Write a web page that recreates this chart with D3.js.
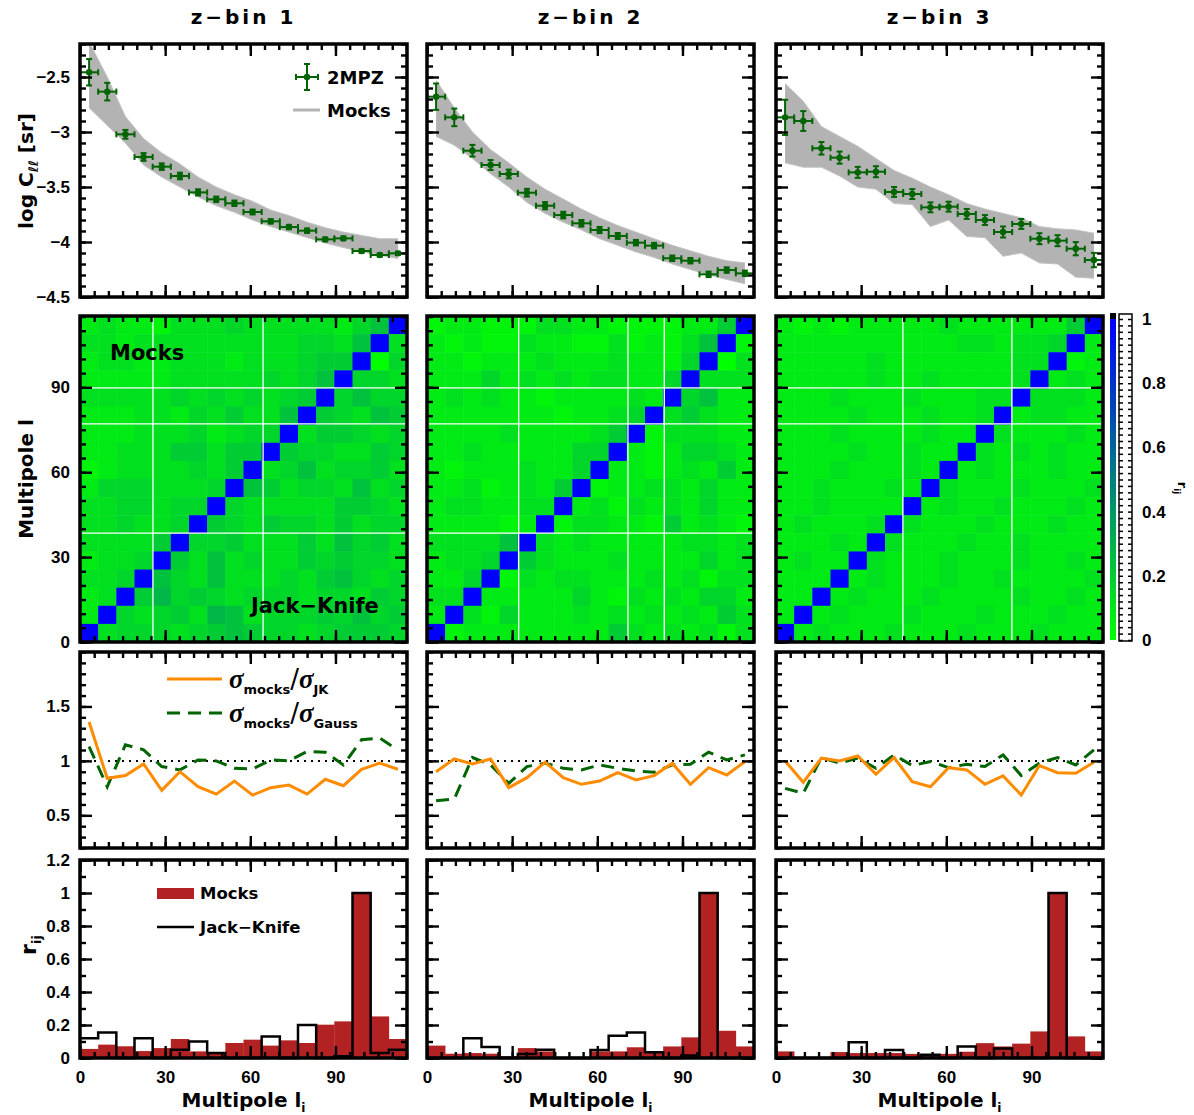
<!DOCTYPE html>
<html>
<head>
<meta charset="utf-8">
<script src="https://cdn.jsdelivr.net/npm/d3@7"></script>
<style>
body { margin: 0; background: #fff; }
svg text { font-family: "DejaVu Sans", sans-serif; font-weight: bold; fill: #000; }
.tick text { font-family: "Liberation Sans", Arial, sans-serif; font-size: 17px; font-weight: bold; }
</style>
</head>
<body>
<div id="chart"></div>
<script>
// multipole binning (18 bins)
const ellEdges = [0, 6.4, 12.8, 19.2, 25.6, 32, 38.4, 44.8, 51.2, 57.6, 64, 70.4, 76.8, 83.2, 89.6, 96, 102.4, 108.8, 115.2];
const ellCentres = [3.2, 9.6, 16, 22.4, 28.8, 35.2, 41.6, 48, 54.4, 60.8, 67.2, 73.6, 80, 86.4, 92.8, 99.2, 105.6, 112];
const zbinTitles = ["z\u2212bin 1", "z\u2212bin 2", "z\u2212bin 3"];

// log C_l of 2MPZ, per z-bin
const clObs = [
  [-2.457, -2.633, -3.021, -3.227, -3.315, -3.4, -3.549, -3.612, -3.648, -3.727, -3.812, -3.864, -3.897, -3.976, -3.967, -4.082, -4.118, -4.103],
  [-2.679, -2.867, -3.17, -3.3, -3.382, -3.552, -3.67, -3.755, -3.83, -3.891, -3.945, -4.006, -4.033, -4.148, -4.17, -4.294, -4.255, -4.285],
  [-2.867, -2.9, -3.148, -3.233, -3.367, -3.361, -3.545, -3.564, -3.685, -3.679, -3.745, -3.8, -3.909, -3.836, -3.97, -3.988, -4.061, -4.164]
];
const clErr = [
  [0.12, 0.08, 0.04, 0.035, 0.03, 0.03, 0.028, 0.025, 0.025, 0.022, 0.02, 0.02, 0.02, 0.018, 0.018, 0.016, 0.015, 0.015],
  [0.12, 0.08, 0.053, 0.045, 0.04, 0.035, 0.033, 0.03, 0.03, 0.028, 0.027, 0.025, 0.025, 0.025, 0.025, 0.025, 0.025, 0.025],
  [0.16, 0.09, 0.057, 0.055, 0.05, 0.05, 0.045, 0.045, 0.045, 0.045, 0.045, 0.045, 0.05, 0.045, 0.05, 0.05, 0.06, 0.065]
];
// envelope of the mock spectra
const mockHi = [
  [-2.18, -2.5, -2.86, -3.06, -3.19, -3.29, -3.41, -3.5, -3.57, -3.63, -3.71, -3.76, -3.82, -3.87, -3.91, -3.94, -3.97, -3.97],
  [-2.53, -2.78, -3.0, -3.16, -3.28, -3.41, -3.52, -3.61, -3.7, -3.78, -3.85, -3.91, -3.97, -4.03, -4.08, -4.13, -4.17, -4.19],
  [-2.56, -2.72, -2.95, -3.04, -3.13, -3.24, -3.35, -3.42, -3.5, -3.57, -3.65, -3.7, -3.74, -3.78, -3.86, -3.88, -3.89, -3.92]
];
const mockLo = [
  [-2.78, -2.94, -3.1, -3.3, -3.41, -3.5, -3.59, -3.67, -3.73, -3.8, -3.86, -3.91, -3.96, -4.01, -4.05, -4.09, -4.12, -4.15],
  [-3.04, -3.12, -3.24, -3.38, -3.5, -3.64, -3.74, -3.82, -3.89, -3.97, -4.03, -4.09, -4.14, -4.2, -4.25, -4.3, -4.34, -4.38],
  [-3.28, -3.32, -3.32, -3.4, -3.5, -3.52, -3.65, -3.66, -3.86, -3.8, -3.95, -3.96, -4.13, -4.1, -4.19, -4.2, -4.32, -4.33]
];

// correlation matrices r_ij, rows from top (l high) to bottom; digit d -> 0.04*d, X -> 1
const heatZ1 = [
  "23221333433333246X", "3323333333334436X3", "233223332333455X04", "22222333334346X443",
  "3333343434345X4644", "222332435336X54365", "22233342344X355434", "2233355355X5443354",
  "123333435X34634453", "24443334X653443634", "3344344X4333335543", "334334X54354435344",
  "33335X445333536453", "2334X5363433545443", "334X64363334356434", "23X574543444344354",
  "2X4345376344454645", "X34443456544345554"
];
const heatZ2 = [
  "12211133221111225X", "2121132211312136X1", "221222322232214X03", "22242323233224X333",
  "2323221222232X4622", "222222212234X35322", "22223222235X133322", "2232222244X2124432",
  "212223224X22123252", "22312325X122332422", "2332233X2313232422", "222212X13322152321",
  "33336X323222223323", "2334X5322232222423", "224X13233222323133", "33X222224213232442",
  "2X3142223232323253", "X12222222253232313"
];
const heatZ3 = [
  "21212222232222225X", "2222222222332334X2", "222223222222233X12", "22222322322223X232",
  "2223222322233X3332", "222232223223X23322", "22232222322X322232", "2222322322X3232322",
  "222322232X23222322", "22322232X322232223", "2232222X2322322232", "232223X32223222322",
  "22232X322232232222", "2322X3222322232232", "222X23222322322223", "22X232223222232232",
  "2X2322232223222322", "X23222322232223222"
];
const whiteV = [[25.7, 64.5], [32.3, 70.8, 83.6], [44.7, 83.1]];
const whiteH = [[89.8, 77.1, 38.5], [89.8, 77.1, 38.5], [89.8, 77.1]];

// sigma ratios
const sigJK = [
  [1.357, 0.84, 0.865, 0.972, 0.729, 0.901, 0.763, 0.695, 0.815, 0.686, 0.754, 0.778, 0.695, 0.831, 0.772, 0.923, 0.979, 0.923],
  [0.901, 1.018, 0.972, 1.018, 0.754, 0.846, 0.988, 0.846, 0.785, 0.815, 0.892, 0.825, 0.865, 0.979, 0.785, 0.938, 0.871, 0.994],
  [1.0, 0.803, 1.025, 1.0, 1.046, 0.877, 1.031, 0.809, 0.763, 0.938, 0.917, 0.785, 0.862, 0.686, 0.957, 0.892, 0.886, 0.988]
];
const sigGauss = [
  [1.132, 0.763, 1.148, 1.102, 0.948, 0.917, 1.009, 1.0, 0.932, 0.926, 1.009, 1.0, 1.086, 1.08, 0.963, 1.194, 1.209, 1.1],
  [0.634, 0.649, 1.031, 0.963, 0.794, 0.948, 0.979, 0.932, 0.917, 0.963, 0.932, 0.908, 0.895, 0.963, 0.969, 1.08, 1.009, 1.055],
  [0.748, 0.702, 1.031, 0.979, 1.025, 0.932, 1.055, 0.957, 0.994, 0.938, 0.969, 0.948, 1.055, 0.865, 0.979, 1.031, 0.963, 1.102]
];

// r_ij for the row at l ~ 99
const rMocks = [
  [0.055, 0.081, 0.071, 0.042, 0.06, 0.115, 0.04, 0.03, 0.091, 0.111, 0.075, 0.107, 0.091, 0.202, 0.222, 1.0, 0.252, 0.115],
  [0.075, 0.026, 0.03, 0.026, 0.01, 0.06, 0.04, 0, 0, 0.04, 0.04, 0.065, 0.035, 0.07, 0.125, 1.0, 0.165, 0.07],
  [0.04, 0, 0, 0.036, 0.03, 0.03, 0.03, 0.025, 0.02, 0.025, 0.038, 0.09, 0.07, 0.087, 0.161, 1.0, 0.131, 0.04]
];
const rJK = [
  [0.12, 0.155, 0, 0.12, 0, 0.05, 0.1, 0.03, 0, 0, 0.13, 0, 0.2, 0, 0.01, 1.0, 0.03, 0.05],
  [0, 0, 0.12, 0.067, 0, 0.025, 0.05, 0, 0, 0.048, 0.135, 0.155, 0.035, 0, 0.015, 1.0, 0, 0],
  [0, 0, 0, 0, 0.095, 0, 0.048, 0, 0.02, 0, 0.07, 0, 0.057, 0, 0, 1.0, 0, 0]
];

const heats = [heatZ1, heatZ2, heatZ3];
const colX = [80, 427, 776], colW = 327;
const rowCl = [297, 44], rowHeat = [642, 316], rowRatio = [848, 652], rowHist = [1058, 860];
const green = "#006400", orange = "#ff8c00", red = "#b22222";

const svg = d3.select("#chart").append("svg")
    .attr("width", 1194)
    .attr("height", 1115);

const fmt = d3.format("~g");

function cleanAxis(s) {
  s.select(".domain").remove();
  s.selectAll(".tick line").attr("stroke", "#000").attr("stroke-width", 2.4);
}

// frame with inward ticks on all four sides
function addAxes(g, x, y, o) {
  const [xa, xb] = x.range();
  const [yb, ya] = y.range();
  const sides = [
    [d3.axisBottom, `translate(0,${yb})`, x, o.xMinor, o.xMajor, o.xLabels],
    [d3.axisTop, `translate(0,${ya})`, x, o.xMinor, o.xMajor, false],
    [d3.axisLeft, `translate(${xa},0)`, y, o.yMinor, o.yMajor, o.yLabels],
    [d3.axisRight, `translate(${xb},0)`, y, o.yMinor, o.yMajor, false]
  ];
  sides.forEach(([ax, tr, sc, minor, major, lab]) => {
    g.append("g").attr("transform", tr)
      .call(ax(sc).tickValues(minor).tickSize(-6).tickFormat(""))
      .call(cleanAxis);
    g.append("g").attr("transform", tr)
      .call(ax(sc).tickValues(major).tickSize(-12).tickPadding(ax === d3.axisBottom ? 13 : 10)
        .tickFormat(lab ? fmt : ""))
      .call(cleanAxis);
  });
  g.append("rect")
    .attr("x", xa).attr("y", ya)
    .attr("width", xb - xa).attr("height", yb - ya)
    .attr("fill", "none").attr("stroke", "#000").attr("stroke-width", 3.5);
}

const heatColour = d3.scaleLinear().domain([0, 1]).range(["#00ff00", "#0000ff"]).interpolate(d3.interpolateRgb);
const parseCell = ch => ch === "X" ? 1 : (+ch) * 0.04;

const xMinor = d3.range(0, 116, 5), xMajor = [0, 30, 60, 90];

for (let k = 0; k < 3; k++) {
  const x = d3.scaleLinear().domain([0, 115.2]).range([colX[k], colX[k] + colW]);
  const first = k === 0;

  // title
  svg.append("text")
    .attr("x", colX[k] + colW / 2).attr("y", 24)
    .attr("text-anchor", "middle")
    .style("font-size", "20px").style("letter-spacing", "3px")
    .text(zbinTitles[k]);

  // ---------- row 1 : C_l ----------
  const yC = d3.scaleLinear().domain([-4.5, -2.2]).range(rowCl);
  const gC = svg.append("g");
  const clipC = "clipC" + k;
  gC.append("clipPath").attr("id", clipC).append("rect")
    .attr("x", x(0)).attr("y", rowCl[1]).attr("width", colW).attr("height", rowCl[0] - rowCl[1]);
  const band = ellCentres.map((l, i) => ({ l: l, hi: mockHi[k][i], lo: mockLo[k][i] }));
  const gBand = gC.append("g").attr("clip-path", `url(#${clipC})`);
  gBand.append("path").datum(band)
    .attr("fill", "#b3b3b3")
    .attr("d", d3.area().x(d => x(d.l)).y0(d => yC(d.lo)).y1(d => yC(d.hi)));
  ["hi", "lo"].forEach(key => {
    gBand.append("path").datum(band)
      .attr("fill", "none").attr("stroke", "#c4c4c4").attr("stroke-width", 1)
      .attr("d", d3.line().x(d => x(d.l)).y(d => yC(d[key])));
  });
  const pts = ellCentres.map((l, i) => ({ l: l, v: clObs[k][i], e: clErr[k][i] }));
  const gP = gC.append("g").attr("clip-path", `url(#${clipC})`)
    .attr("stroke", green).attr("stroke-width", 2).attr("fill", green);
  pts.forEach(d => {
    const cx = x(d.l), cy = yC(d.v);
    const xl = x(d.l - 3.2), xr = x(d.l + 3.2), yt = yC(d.v + d.e), ybt = yC(d.v - d.e);
    gP.append("line").attr("x1", xl).attr("x2", xr).attr("y1", cy).attr("y2", cy);
    gP.append("line").attr("x1", xl).attr("x2", xl).attr("y1", cy - 3).attr("y2", cy + 3);
    gP.append("line").attr("x1", xr).attr("x2", xr).attr("y1", cy - 3).attr("y2", cy + 3);
    gP.append("line").attr("x1", cx).attr("x2", cx).attr("y1", yt).attr("y2", ybt);
    gP.append("line").attr("x1", cx - 3).attr("x2", cx + 3).attr("y1", yt).attr("y2", yt);
    gP.append("line").attr("x1", cx - 3).attr("x2", cx + 3).attr("y1", ybt).attr("y2", ybt);
    gP.append("circle").attr("cx", cx).attr("cy", cy).attr("r", 3.2).attr("stroke", "none");
  });
  addAxes(gC, x, yC, { xMinor, xMajor, xLabels: false,
    yMinor: d3.range(-4.5, -2.15, 0.1), yMajor: [-4.5, -4, -3.5, -3, -2.5], yLabels: first });

  if (first) {
    const lg = gC.append("g").attr("stroke", green).attr("stroke-width", 2);
    lg.append("line").attr("x1", 296).attr("x2", 318).attr("y1", 77).attr("y2", 77);
    lg.append("line").attr("x1", 296).attr("x2", 296).attr("y1", 74).attr("y2", 80);
    lg.append("line").attr("x1", 318).attr("x2", 318).attr("y1", 74).attr("y2", 80);
    lg.append("line").attr("x1", 307).attr("x2", 307).attr("y1", 64).attr("y2", 90);
    lg.append("line").attr("x1", 304).attr("x2", 310).attr("y1", 64).attr("y2", 64);
    lg.append("line").attr("x1", 304).attr("x2", 310).attr("y1", 90).attr("y2", 90);
    lg.append("circle").attr("cx", 307).attr("cy", 77).attr("r", 3.2).attr("fill", green).attr("stroke", "none");
    gC.append("text").attr("x", 327).attr("y", 84).style("font-size", "18px").text("2MPZ");
    gC.append("line").attr("x1", 293).attr("x2", 320).attr("y1", 110).attr("y2", 110)
      .attr("stroke", "#b3b3b3").attr("stroke-width", 3);
    gC.append("text").attr("x", 327).attr("y", 117).style("font-size", "18px").text("Mocks");
  }

  // ---------- row 2 : correlation matrix ----------
  const yH = d3.scaleLinear().domain([0, 115.2]).range(rowHeat);
  const gH = svg.append("g");
  const cells = [];
  heats[k].forEach((rowStr, ri) => {
    const r = 17 - ri;
    rowStr.split("").forEach((ch, c) => cells.push({ r: r, c: c, v: parseCell(ch) }));
  });
  gH.selectAll("rect.cell").data(cells).join("rect")
    .attr("class", "cell")
    .attr("x", d => x(ellEdges[d.c]))
    .attr("y", d => yH(ellEdges[d.r + 1]))
    .attr("width", d => x(ellEdges[d.c + 1]) - x(ellEdges[d.c]) + 0.5)
    .attr("height", d => yH(ellEdges[d.r]) - yH(ellEdges[d.r + 1]) + 0.5)
    .attr("fill", d => heatColour(d.v));
  whiteV[k].forEach(l => gH.append("line")
    .attr("x1", x(l)).attr("x2", x(l)).attr("y1", rowHeat[1]).attr("y2", rowHeat[0])
    .attr("stroke", "#fff").attr("stroke-width", 1.3));
  whiteH[k].forEach(l => gH.append("line")
    .attr("x1", x(0)).attr("x2", x(115.2)).attr("y1", yH(l)).attr("y2", yH(l))
    .attr("stroke", "#fff").attr("stroke-width", 1.3));
  addAxes(gH, x, yH, { xMinor, xMajor, xLabels: false,
    yMinor: xMinor, yMajor: xMajor, yLabels: first });
  if (first) {
    gH.append("text").attr("x", 110).attr("y", 360).style("font-size", "21px").text("Mocks");
    gH.append("text").attr("x", 251).attr("y", 613).style("font-size", "21px").text("Jack\u2212Knife");
  }

  // ---------- row 3 : sigma ratios ----------
  const yR = d3.scaleLinear().domain([0.2, 2.0]).range(rowRatio);
  const gR = svg.append("g");
  gR.append("line")
    .attr("x1", x(0)).attr("x2", x(115.2)).attr("y1", yR(1)).attr("y2", yR(1))
    .attr("stroke", "#000").attr("stroke-width", 2).attr("stroke-dasharray", "2,5");
  gR.append("path").datum(sigGauss[k])
    .attr("fill", "none").attr("stroke", green).attr("stroke-width", 3).attr("stroke-dasharray", "13,8")
    .attr("d", d3.line().x((d, i) => x(ellCentres[i])).y(d => yR(d)));
  gR.append("path").datum(sigJK[k])
    .attr("fill", "none").attr("stroke", orange).attr("stroke-width", 3)
    .attr("d", d3.line().x((d, i) => x(ellCentres[i])).y(d => yR(d)));
  addAxes(gR, x, yR, { xMinor, xMajor, xLabels: false,
    yMinor: d3.range(0.2, 2.01, 0.1), yMajor: [0.5, 1, 1.5], yLabels: first });
  if (first) {
    gR.append("line").attr("x1", 167).attr("x2", 222).attr("y1", 679).attr("y2", 679)
      .attr("stroke", orange).attr("stroke-width", 3);
    gR.append("line").attr("x1", 167).attr("x2", 222).attr("y1", 713).attr("y2", 713)
      .attr("stroke", green).attr("stroke-width", 3).attr("stroke-dasharray", "13,8");
    [[688, "JK"], [722, "Gauss"]].forEach(([yy, sub]) => {
      const t = gR.append("text").attr("x", 229).attr("y", yy);
      t.append("tspan").style("font-family", "Liberation Serif, serif").style("font-style", "italic")
        .style("font-size", "27px").text("\u03c3");
      t.append("tspan").attr("dy", 6).style("font-size", "13px").text("mocks");
      t.append("tspan").attr("dy", -6).style("font-size", "26px").style("font-weight", "normal").text("/");
      t.append("tspan").style("font-family", "Liberation Serif, serif").style("font-style", "italic")
        .style("font-size", "27px").text("\u03c3");
      t.append("tspan").attr("dy", 6).style("font-size", "13px").text(sub);
    });
  }

  // ---------- row 4 : r_ij ----------
  const yB = d3.scaleLinear().domain([0, 1.2]).range(rowHist);
  const gB = svg.append("g");
  gB.selectAll("rect.bar").data(rMocks[k]).join("rect")
    .attr("class", "bar")
    .attr("x", (d, i) => x(ellEdges[i]))
    .attr("width", (d, i) => x(ellEdges[i + 1]) - x(ellEdges[i]) + 0.3)
    .attr("y", d => yB(d))
    .attr("height", d => yB(0) - yB(d))
    .attr("fill", red);
  const stepPts = rJK[k].map((v, i) => [ellEdges[i], v]).concat([[ellEdges[18], rJK[k][17]]]);
  gB.append("path").datum(stepPts)
    .attr("fill", "none").attr("stroke", "#000").attr("stroke-width", 2.5)
    .attr("d", d3.line().x(d => x(d[0])).y(d => yB(d[1])).curve(d3.curveStepAfter));
  addAxes(gB, x, yB, { xMinor, xMajor, xLabels: true,
    yMinor: d3.range(0, 1.21, 0.1), yMajor: [0, 0.2, 0.4, 0.6, 0.8, 1, 1.2], yLabels: first });
  if (first) {
    gB.append("rect").attr("x", 157).attr("y", 888).attr("width", 37).attr("height", 11).attr("fill", red);
    gB.append("text").attr("x", 200).attr("y", 899).style("font-size", "16.5px").text("Mocks");
    gB.append("line").attr("x1", 157).attr("x2", 194).attr("y1", 927).attr("y2", 927)
      .attr("stroke", "#000").attr("stroke-width", 2.5);
    gB.append("text").attr("x", 200).attr("y", 933).style("font-size", "16.5px").text("Jack\u2212Knife");
  }

  // x title
  const xt = svg.append("text")
    .attr("x", colX[k] + colW / 2).attr("y", 1107)
    .attr("text-anchor", "middle").style("font-size", "20px");
  xt.append("tspan").text("Multipole l");
  xt.append("tspan").attr("dy", 5).style("font-size", "12px").text("i");
}

// y titles
const yl1 = svg.append("text").attr("transform", "translate(33,171) rotate(-90)")
  .attr("text-anchor", "middle").style("font-size", "20px");
yl1.append("tspan").text("log C");
yl1.append("tspan").attr("dy", 5).style("font-size", "13px").text("\u2113\u2113");
yl1.append("tspan").attr("dy", -5).text(" [sr]");

svg.append("text").attr("transform", "translate(33,479) rotate(-90)")
  .attr("text-anchor", "middle").style("font-size", "20px").text("Multipole l");

const yl4 = svg.append("text").attr("transform", "translate(36,945) rotate(-90)")
  .attr("text-anchor", "middle").style("font-size", "22px");
yl4.append("tspan").text("r");
yl4.append("tspan").attr("dy", 5).style("font-size", "13px").text("ij");

// colour bar
const cb = d3.scaleLinear().domain([0, 1]).range([640, 319]);
const defs = svg.append("defs");
const grad = defs.append("linearGradient").attr("id", "cbgrad")
  .attr("x1", 0).attr("y1", 1).attr("x2", 0).attr("y2", 0);
[0, 1].forEach(v => grad.append("stop").attr("offset", v).attr("stop-color", heatColour(v)));
svg.append("rect").attr("x", 1110).attr("y", cb(1)).attr("width", 6).attr("height", cb(0) - cb(1))
  .attr("fill", "url(#cbgrad)");
svg.append("rect").attr("x", 1110).attr("y", 313).attr("width", 6).attr("height", 6).attr("fill", "#000");
const cbTicks = d3.range(0, 1.001, 0.02);
svg.append("g").attr("transform", "translate(1119,0)")
  .call(d3.axisRight(cb).tickValues(cbTicks).tickSize(4).tickFormat(""))
  .call(s => { s.select(".domain").remove(); s.selectAll(".tick line").attr("stroke", "#000").attr("stroke-width", 1.5); });
svg.append("g").attr("transform", "translate(1132,0)")
  .call(d3.axisLeft(cb).tickValues(cbTicks).tickSize(4).tickFormat(""))
  .call(s => { s.select(".domain").remove(); s.selectAll(".tick line").attr("stroke", "#000").attr("stroke-width", 1.5); });
svg.append("g").attr("transform", "translate(1132,0)")
  .call(d3.axisRight(cb).tickValues([0, 0.2, 0.4, 0.6, 0.8, 1]).tickSize(0).tickPadding(10).tickFormat(fmt))
  .call(s => s.select(".domain").remove());
svg.append("rect").attr("x", 1119).attr("y", 314).attr("width", 13).attr("height", 327)
  .attr("fill", "none").attr("stroke", "#000").attr("stroke-width", 1.5);
const cbl = svg.append("text").attr("transform", "translate(1178,488) rotate(90)")
  .attr("text-anchor", "middle").style("font-size", "13px");
cbl.append("tspan").text("r");
cbl.append("tspan").attr("dy", 4).style("font-size", "9px").text("ij");
</script>
</body>
</html>
